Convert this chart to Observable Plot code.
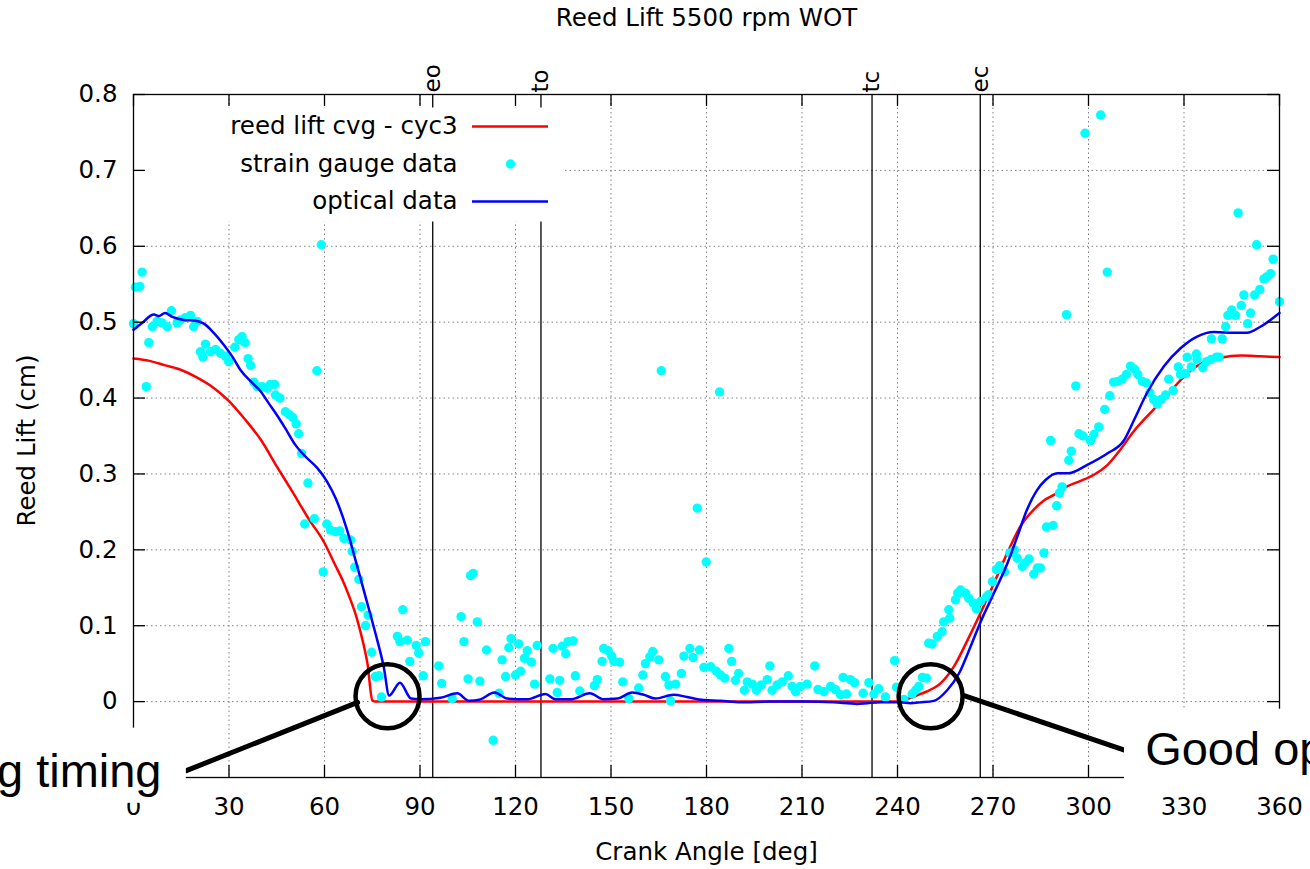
<!DOCTYPE html>
<html><head><meta charset="utf-8">
<script src="https://cdn.jsdelivr.net/npm/d3@7"></script>
<script src="https://cdn.jsdelivr.net/npm/@observablehq/plot@0.6"></script>
<style>
html,body{margin:0;padding:0;background:#fff;}
#chart svg{display:block;overflow:hidden;}
</style></head><body><div id="chart"></div>
<script>
// ---------- DATA ----------
const chartTitle = "Reed Lift 5500 rpm WOT";
const xLabel = "Crank Angle [deg]";
const yLabel = "Reed Lift (cm)";
const seriesNames = ["reed lift cvg - cyc3", "strain gauge data", "optical data"];

const tickAngle = [0, 30, 60, 90, 120, 150, 180, 210, 240, 270, 300, 330, 360];
const tickLift = [-0.1, 0, 0.1, 0.2, 0.3, 0.4, 0.5, 0.6, 0.7, 0.8];
const labelLift = [0, 0.1, 0.2, 0.3, 0.4, 0.5, 0.6, 0.7, 0.8];
const gridAngle = [30, 60, 90, 120, 150, 180, 210, 240, 270, 300, 330];
const gridLift = [0, 0.1, 0.2, 0.3, 0.4, 0.5, 0.6, 0.7];

const eventName = ["eo", "to", "tc", "ec"];
const eventAngle = [94, 128, 232, 266];

// reed lift cvg - cyc3 (red)
const redAngle = [0,5,10,15,20,25,30,35,40,45,50,55,60,63,66,68,70,72,73.5,75,76,240,242,246,249,253.5,257.7,262,266,270,274.5,278.6,282.8,286,289,293,297,301.7,306,310,314,320.5,325,329,334,341.5,348,354,360];
const redLift  = [0.452,0.449,0.443,0.437,0.427,0.414,0.396,0.372,0.345,0.310,0.276,0.241,0.209,0.183,0.157,0.136,0.112,0.080,0.050,0.002,0,0,0.002,0.008,0.013,0.024,0.046,0.081,0.116,0.153,0.196,0.231,0.253,0.265,0.272,0.283,0.290,0.299,0.312,0.332,0.355,0.385,0.405,0.424,0.442,0.453,0.456,0.455,0.454];

// optical data (blue)
const opticalAngle = [0,2.7,6.4,8,9.9,12.2,15.8,19.5,22.1,25.2,28.4,31,33.6,37.3,39.9,42.5,45.6,47.7,50.9,54,57.7,60.8,63.5,67.1,69.7,72.9,76,78.6,80.3,83.7,87.2,90,96.4,101.7,105.4,109,113.4,117.4,123.7,129.4,132.6,137.3,143.3,147.7,152,156.7,160.3,164,169.7,173.9,179.1,184.4,190.7,200,210.6,220,227.3,230.5,234.7,241,244.1,247.2,251.4,255.6,259.3,262.9,266.1,270.3,274.5,277.6,280.7,283.9,286.5,290.2,293.8,299.6,305.9,311.1,314.3,318.4,323.7,329,334.1,339.4,345.6,349.8,354,360];
const opticalLift  = [0.490,0.499,0.510,0.508,0.512,0.507,0.503,0.502,0.498,0.486,0.470,0.455,0.437,0.420,0.409,0.393,0.374,0.360,0.338,0.323,0.308,0.290,0.268,0.226,0.187,0.138,0.090,0.046,0.008,0.025,0.004,0.003,0.005,0.011,0.001,0.003,0.012,0.004,0.003,0.010,0.003,0.003,0.011,0.003,0.004,0.012,0.009,0.004,0.009,0.006,0.002,0.001,-0.001,0.000,0.000,-0.001,-0.003,-0.002,-0.001,-0.001,-0.002,-0.001,0.001,0.015,0.037,0.072,0.105,0.143,0.182,0.217,0.253,0.279,0.292,0.301,0.301,0.312,0.327,0.344,0.371,0.407,0.442,0.466,0.481,0.487,0.486,0.486,0.494,0.512];

// strain gauge data (cyan)
const gaugeAngle = [2.7,0.6,2.0,0,4.0,4.8,5.9,7.4,9.0,10.6,11.9,13.7,14.8,16.3,17.9,18.9,20.0,21.0,21.8,22.6,24.2,25.8,27.3,28.9,29.9,31.8,33.1,34.1,35.0,36.0,36.8,37.8,38.9,40.4,42.0,43.0,44.3,44.6,46.0,47.7,49.0,50.1,51.1,51.9,52.8,57.6,54.8,53.8,56.8,60.7,61.9,63.5,64.8,66.1,68.2,68.7,59.6,69.5,70.8,71.6,73.7,72.9,74.8,76.0,77.1,77.9,84.6,82.9,83.7,86.0,88.8,89.6,91.7,86.8,91.0,95.9,96.8,100.1,102.9,103.8,105.1,105.9,106.7,108.0,108.8,110.9,113.0,114.8,115.8,116.9,117.9,118.6,120.0,121.0,121.6,122.8,123.7,125.0,126.0,126.8,130.8,131.8,133.1,133.9,134.7,135.8,136.5,138.1,138.8,140.2,144.8,145.7,147.2,147.7,149.1,150.2,150.9,152.7,153.7,155.6,158.7,160.0,160.8,162.2,163.1,165.0,167.1,168.2,168.7,170.3,172.1,172.9,174.8,175.8,177.8,179.2,179.9,181.3,183.1,184.4,185.7,187.0,187.9,189.1,190.1,191.9,192.8,194.4,195.7,197.2,199.1,199.9,200.6,202.2,203.8,205.7,206.9,208.0,209.5,211.6,214.0,215.0,216.9,219.0,220.5,222.1,222.9,224.0,225.2,226.5,229.2,231.0,232.6,234.1,236.2,239.1,239.7,165.8,184.1,177.1,242.0,244.6,245.7,246.7,247.8,249.1,249.8,250.9,252.5,254.0,254.5,256.4,256.1,258.2,258.9,259.8,261.4,262.4,263.8,264.8,266.1,268.0,268.7,269.8,271.1,272.1,273.6,275.3,276.7,277.6,279.2,280.2,281.3,282.8,283.9,284.9,286.0,286.8,288.9,290.0,290.9,291.7,293.8,294.6,288.1,297.0,298.3,300.6,301.7,303.2,293.1,298.9,303.8,305.9,296.0,305.1,306.7,307.9,309.2,310.6,311.9,313.2,314.5,315.5,316.9,318.2,319.3,320.5,321.6,322.8,324.2,325.2,326.6,328.2,328.9,330.5,331.0,332.3,333.9,334.1,335.9,337.1,338.5,340.2,341.0,338.6,342.0,343.1,343.8,345.0,346.2,348.0,348.8,350.0,350.9,352.2,353.8,355.1,356.1,357.2,358.0,360.0,347.0,352.8,59.0];
const gaugeLift  = [0.566,0.546,0.547,0.498,0.415,0.473,0.494,0.501,0.499,0.494,0.515,0.499,0.503,0.506,0.509,0.494,0.501,0.461,0.454,0.471,0.461,0.464,0.459,0.455,0.448,0.467,0.477,0.481,0.473,0.452,0.443,0.421,0.415,0.415,0.413,0.418,0.418,0.404,0.400,0.382,0.378,0.374,0.366,0.353,0.327,0.436,0.288,0.234,0.241,0.234,0.226,0.224,0.225,0.215,0.213,0.198,0.171,0.177,0.161,0.125,0.114,0.100,0.065,0.033,0.034,0.006,0.121,0.086,0.079,0.081,0.074,0.064,0.079,0.053,0.034,0.047,0.024,0.004,0.112,0.079,0.030,0.166,0.169,0.105,0.027,0.068,-0.051,0.011,0.055,0.033,0.071,0.083,0.035,0.076,0.040,0.057,0.067,0.052,0.023,0.074,0.030,0.070,0.012,0.028,0.073,0.063,0.079,0.080,0.034,0.014,0.021,0.029,0.053,0.070,0.067,0.060,0.053,0.052,0.026,0.004,0.018,0.035,0.050,0.059,0.066,0.055,0.033,0.022,0.001,0.023,0.037,0.060,0.070,0.058,0.068,0.045,0.184,0.046,0.040,0.035,0.031,0.070,0.053,0.028,0.037,0.015,0.026,0.023,0.015,0.022,0.029,0.047,0.015,0.022,0.026,0.034,0.020,0.013,0.020,0.023,0.047,0.016,0.013,0.020,0.016,0.009,0.032,0.010,0.029,0.025,0.011,0.025,0.010,0.017,0.006,0.054,0.019,0.436,0.408,0.255,0.003,0.010,0.015,0.020,0.032,0.031,0.077,0.076,0.086,0.092,0.105,0.110,0.121,0.134,0.143,0.147,0.143,0.136,0.130,0.122,0.132,0.138,0.141,0.158,0.174,0.179,0.171,0.196,0.200,0.189,0.178,0.183,0.188,0.168,0.176,0.176,0.196,0.230,0.232,0.258,0.275,0.283,0.318,0.330,0.344,0.353,0.350,0.344,0.352,0.362,0.510,0.749,0.773,0.566,0.416,0.385,0.403,0.421,0.422,0.425,0.431,0.442,0.438,0.431,0.422,0.420,0.407,0.398,0.392,0.398,0.404,0.425,0.410,0.441,0.431,0.432,0.454,0.441,0.458,0.451,0.440,0.448,0.451,0.454,0.454,0.478,0.478,0.494,0.509,0.516,0.509,0.522,0.536,0.498,0.512,0.536,0.543,0.557,0.560,0.564,0.583,0.527,0.644,0.602,0.602];

// overlaid call-outs (data coordinates)
const noteText = ["g timing", "Good op"];
const noteAngle = [8.8, 317.8];
const noteLift = [-0.113, -0.084];
const ringAngle = [79.8, 250.4];
const ringLift = [0.007, 0.007];
const leaderId = [0, 0, 1, 1];
const leaderAngle = [70.4, 16.6, 260.9, 311.3];
const leaderLift = [-0.001, -0.091, 0.008, -0.064];
const maskAngle1 = [-45, 311.3];
const maskAngle2 = [16.6, 375];
const maskLift1 = [-0.035, -0.010];
const maskLift2 = [-0.134, -0.118];

// ---------- BUILD ----------
const zip = (a, b) => a.map((v, i) => ({angle: v, lift: b[i]}));
const red = zip(redAngle, redLift);
const optical = zip(opticalAngle, opticalLift);
const gauge = zip(gaugeAngle, gaugeLift);
const leaders = leaderAngle.map((v, i) => ({id: leaderId[i], angle: v, lift: leaderLift[i]}));
const rings = zip(ringAngle, ringLift);
const masks = maskAngle1.map((v, i) => ({a1: v, a2: maskAngle2[i], l1: maskLift1[i], l2: maskLift2[i]}));

const W = 1310, H = 869, mL = 133, mR = 31, mT = 94, mB = 92;
const fw = W - mL - mR, fh = H - mT - mB;
const RED = "#ff0000", BLUE = "#0000ff", CYAN = "#00ffff";
const gnuFont = "'DejaVu Sans', sans-serif";
const noteFont = "'Liberation Sans', Arial, sans-serif";
const fmtLift = d => d === 0 ? "0" : d.toFixed(1);
const legendDy = [32, 69.5, 107];
const FS = 24.5;

const chart = Plot.plot({
  width: W, height: H,
  marginLeft: mL, marginRight: mR, marginTop: mT, marginBottom: mB,
  style: {fontFamily: gnuFont, fontSize: FS + "px", background: "white", color: "black"},
  x: {domain: [0, 360], axis: null},
  y: {domain: [-0.1, 0.8], axis: null},
  marks: [
    // grid
    Plot.ruleY(gridLift, {y: d => d, stroke: "#808080", strokeWidth: 1, strokeDasharray: "1.5,3"}),
    Plot.ruleX(gridAngle, {x: d => d, stroke: "#808080", strokeWidth: 1, strokeDasharray: "1.5,3"}),
    // event markers
    Plot.ruleX(eventAngle, {x: d => d, stroke: "black", strokeWidth: 1.3}),
    // data
    Plot.line(red, {x: "angle", y: "lift", stroke: RED, strokeWidth: 2.5, curve: "monotone-x"}),
    Plot.dot(gauge, {x: "angle", y: "lift", r: 4.7, fill: CYAN, stroke: "none"}),
    Plot.line(optical, {x: "angle", y: "lift", stroke: BLUE, strokeWidth: 2.5, curve: "monotone-x"}),
    // legend
    Plot.frame({fill: "white", stroke: "none", insetTop: 13, insetLeft: 1, insetRight: fw - 429, insetBottom: fh - 127}),
    ...seriesNames.map((t, i) => Plot.text([t], {text: d => d, frameAnchor: "top-left", dx: 324, dy: legendDy[i], textAnchor: "end", lineAnchor: "middle"})),
    Plot.ruleY([0.8], {y: d => d, dy: legendDy[0], insetLeft: 339, insetRight: fw - 415, stroke: RED, strokeWidth: 2.5}),
    Plot.dot([0], {frameAnchor: "top-left", dx: 377, dy: legendDy[1], r: 4.7, fill: CYAN, stroke: "none"}),
    Plot.ruleY([0.8], {y: d => d, dy: legendDy[2], insetLeft: 339, insetRight: fw - 415, stroke: BLUE, strokeWidth: 2.5}),
    // border + ticks
    Plot.frame({stroke: "black", strokeWidth: 1.3}),
    Plot.ruleX(tickAngle, {x: d => d, insetTop: fh - 12, stroke: "black", strokeWidth: 1.3}),
    Plot.ruleX(tickAngle, {x: d => d, insetBottom: fh - 12, stroke: "black", strokeWidth: 1.3}),
    Plot.ruleY(tickLift, {y: d => d, insetRight: fw - 12, stroke: "black", strokeWidth: 1.3}),
    Plot.ruleY(tickLift, {y: d => d, insetLeft: fw - 12, stroke: "black", strokeWidth: 1.3}),
    // tick labels
    Plot.text(tickAngle, {x: d => d, text: d => String(d), frameAnchor: "bottom", dy: 30, lineAnchor: "middle"}),
    Plot.text(labelLift, {y: d => d, text: fmtLift, frameAnchor: "left", dx: -16, textAnchor: "end", lineAnchor: "middle"}),
    // event labels
    Plot.text(eventAngle, {x: d => d, text: (d, i) => eventName[i], frameAnchor: "top", rotate: -90, textAnchor: "start", lineAnchor: "middle", dy: -2, fontSize: 23}),
    // titles
    Plot.text([chartTitle], {text: d => d, frameAnchor: "top", dy: -76, lineAnchor: "middle"}),
    Plot.text([xLabel], {text: d => d, frameAnchor: "bottom", dy: 75, lineAnchor: "middle"}),
    Plot.text([yLabel], {text: d => d, frameAnchor: "left", dx: -106, dy: 4.5, rotate: -90, textAnchor: "middle", lineAnchor: "middle"}),
    // call-outs
    Plot.line(leaders, {x: "angle", y: "lift", z: "id", stroke: "black", strokeWidth: 5}),
    Plot.dot(rings, {x: "angle", y: "lift", r: 32, stroke: "black", strokeWidth: 4.5, fill: "none"}),
    Plot.rect(masks, {x1: "a1", x2: "a2", y1: "l1", y2: "l2", fill: "white"}),
    Plot.text([0], {x: () => noteAngle[0], y: () => noteLift[0], text: () => noteText[0], textAnchor: "end", lineAnchor: "bottom", fontSize: 47, fontFamily: noteFont}),
    Plot.text([1], {x: () => noteAngle[1], y: () => noteLift[1], text: () => noteText[1], textAnchor: "start", lineAnchor: "bottom", fontSize: 47, fontFamily: noteFont})
  ]
});
document.getElementById("chart").appendChild(chart);
</script></body></html>
